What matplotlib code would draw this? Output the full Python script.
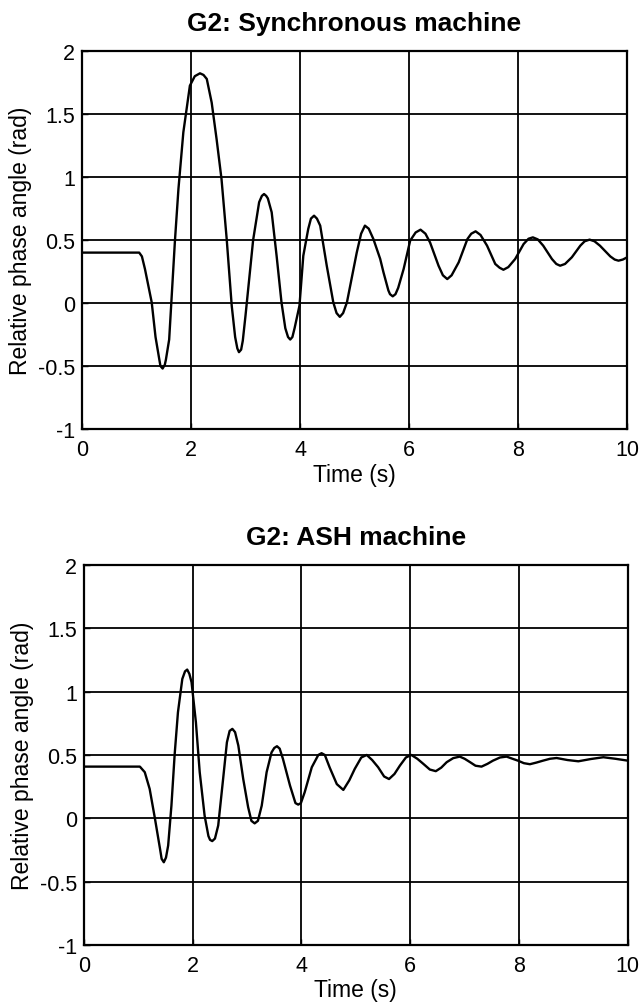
import matplotlib
matplotlib.use("Agg")
import matplotlib.pyplot as plt

plt.rcParams['font.family'] = ['Liberation Sans', 'DejaVu Sans']

# G2 synchronous machine: relative phase angle (rad) vs time (s)
sync_t = [0.0, 1.05, 1.10, 1.156, 1.28, 1.35, 1.42, 1.44, 1.48, 1.52, 1.54, 1.60, 1.706, 1.77,
          1.86, 1.98, 2.07, 2.165, 2.23, 2.29, 2.38, 2.47, 2.56, 2.655, 2.747, 2.81, 2.85, 2.88,
          2.92, 2.95, 3.0, 3.14, 3.25, 3.30, 3.34, 3.38, 3.41, 3.48, 3.57, 3.66, 3.73, 3.78, 3.82,
          3.86, 3.9, 3.99, 4.06, 4.15, 4.20, 4.257, 4.31, 4.37, 4.49, 4.61, 4.67, 4.73, 4.79,
          4.86, 5.04, 5.12, 5.19, 5.26, 5.345, 5.47, 5.53, 5.62, 5.65, 5.70, 5.75, 5.80, 5.90,
          6.02, 6.12, 6.21, 6.30, 6.385, 6.54, 6.62, 6.70, 6.78, 6.91, 7.07, 7.14, 7.22, 7.31,
          7.43, 7.58, 7.66, 7.73, 7.82, 7.945, 8.10, 8.19, 8.27, 8.36, 8.46, 8.62, 8.70, 8.77,
          8.86, 8.985, 9.14, 9.22, 9.31, 9.40, 9.50, 9.69, 9.77, 9.84, 9.92, 10.0]
sync_v = [0.40, 0.40, 0.37, 0.27, 0.005, -0.27, -0.45, -0.50, -0.52, -0.49, -0.45, -0.29, 0.495, 0.905,
          1.355, 1.725, 1.80, 1.823, 1.81, 1.778, 1.59, 1.30, 0.984, 0.508, -0.02, -0.27, -0.36, -0.39,
          -0.37, -0.30, -0.10, 0.50, 0.80, 0.85, 0.865, 0.85, 0.83, 0.72, 0.376, 0.005, -0.20, -0.27, -0.29,
          -0.27, -0.20, -0.02, 0.375, 0.587, 0.67, 0.693, 0.67, 0.614, 0.296, 0.005, -0.08, -0.11, -0.08,
          0.005, 0.40, 0.55, 0.614, 0.59, 0.508, 0.35, 0.244, 0.10, 0.07, 0.053, 0.07, 0.12, 0.27,
          0.495, 0.56, 0.582, 0.55, 0.48, 0.296, 0.22, 0.19, 0.22, 0.323, 0.508, 0.55, 0.569, 0.54,
          0.455, 0.31, 0.28, 0.264, 0.285, 0.349, 0.468, 0.51, 0.521, 0.505, 0.455, 0.349, 0.31, 0.296,
          0.31, 0.363, 0.455, 0.49, 0.503, 0.49, 0.455, 0.37, 0.345, 0.336, 0.345, 0.363]

# G2 ASH machine
ash_t = [0.0, 1.03, 1.12, 1.21, 1.305, 1.40, 1.43, 1.47, 1.51, 1.55, 1.61, 1.67, 1.73, 1.81,
         1.86, 1.90, 1.94, 1.98, 2.06, 2.13, 2.22, 2.29, 2.32, 2.36, 2.41, 2.47, 2.56, 2.63,
         2.68, 2.73, 2.78, 2.84, 2.93, 3.02, 3.08, 3.14, 3.20, 3.27, 3.36, 3.45, 3.50, 3.55,
         3.60, 3.66, 3.79, 3.89, 3.94, 3.99, 4.06, 4.19, 4.31, 4.37, 4.43, 4.52, 4.65, 4.77,
         4.88, 4.98, 5.10, 5.20, 5.30, 5.41, 5.52, 5.61, 5.71, 5.81, 5.92, 6.02, 6.13, 6.24,
         6.36, 6.47, 6.57, 6.67, 6.79, 6.91, 7.00, 7.10, 7.20, 7.31, 7.42, 7.52, 7.65, 7.77,
         7.88, 7.98, 8.09, 8.20, 8.32, 8.44, 8.57, 8.69, 8.89, 9.09, 9.32, 9.55, 9.77, 10.0]
ash_v = [0.408, 0.408, 0.364, 0.232, 0.003, -0.24, -0.32, -0.347, -0.31, -0.215, 0.10, 0.508, 0.837, 1.10,
         1.16, 1.174, 1.14, 1.074, 0.758, 0.364, 0.021, -0.14, -0.17, -0.18, -0.16, -0.057, 0.31, 0.60,
         0.69, 0.706, 0.68, 0.574, 0.31, 0.088, -0.02, -0.04, -0.02, 0.10, 0.364, 0.52, 0.555, 0.569,
         0.55, 0.469, 0.258, 0.12, 0.108, 0.12, 0.206, 0.403, 0.50, 0.514, 0.50, 0.40, 0.27, 0.224,
         0.30, 0.39, 0.48, 0.50, 0.46, 0.403, 0.33, 0.31, 0.35, 0.416, 0.48, 0.50, 0.47, 0.43,
         0.385, 0.372, 0.40, 0.443, 0.475, 0.487, 0.47, 0.443, 0.415, 0.408, 0.43, 0.455, 0.48, 0.487,
         0.47, 0.455, 0.435, 0.427, 0.44, 0.455, 0.47, 0.476, 0.46, 0.45, 0.468, 0.482, 0.47, 0.455]

titles = ["G2: Synchronous machine", "G2: ASH machine"]
xticks = [0, 2, 4, 6, 8, 10]
yticks = [-1, -0.5, 0, 0.5, 1, 1.5, 2]
ytick_labels = ["-1", "-0.5", "0", "0.5", "1", "1.5", "2"]

fig = plt.figure(figsize=(6.40, 10.04), dpi=100)
ax1 = fig.add_axes([0.128, 0.5717, 0.852, 0.3765])
ax2 = fig.add_axes([0.131, 0.0578, 0.850, 0.3785])

for ax, t, v, title in [(ax1, sync_t, sync_v, titles[0]), (ax2, ash_t, ash_v, titles[1])]:
    ax.plot(t, v, color='black', lw=1.7)
    ax.set_xlim(0, 10)
    ax.set_ylim(-1, 2)
    ax.set_xticks(xticks)
    ax.set_xticklabels([str(x) for x in xticks])
    ax.set_yticks(yticks)
    ax.set_yticklabels(ytick_labels)
    ax.grid(True, color='black', lw=1.3, ls='-')
    ax.set_axisbelow(True)
    for s in ax.spines.values():
        s.set_linewidth(1.6)
    ax.tick_params(direction='in', length=4, width=1, labelsize=15.5)
    ax.tick_params(axis='x', pad=7)
    ax.tick_params(axis='y', pad=5)
    ax.set_xlabel("Time (s)", fontsize=16.5, labelpad=2)
    ax.set_ylabel("Relative phase angle (rad)", fontsize=16.5, labelpad=4)
    ax.set_title(title, fontsize=19, fontweight='bold', pad=15)

fig.savefig("out.png", dpi=100)
